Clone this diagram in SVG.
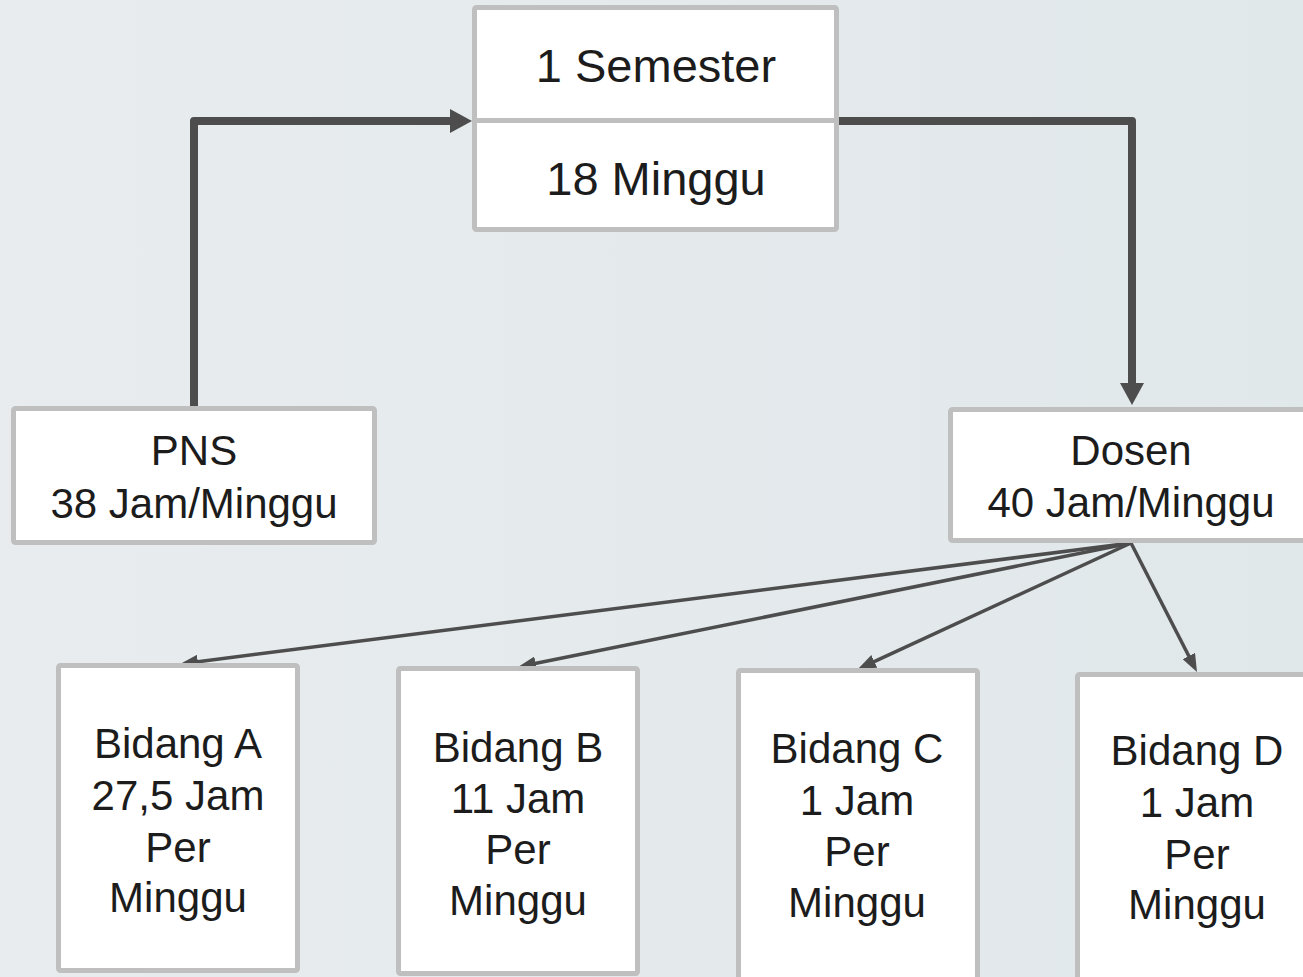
<svg xmlns="http://www.w3.org/2000/svg" width="1303" height="977" viewBox="0 0 1303 977">
<style>
.box{fill:#ffffff;stroke:#bfbfbf;stroke-width:5;}
.t{font-family:"Liberation Sans",Arial,sans-serif;font-size:42px;fill:#1c1c1c;text-anchor:middle;}
.tb{font-size:47px;}
.thick{fill:none;stroke:#4d4d4d;stroke-width:8;stroke-linejoin:round;}
.thin{fill:none;stroke:#4d4d4d;stroke-width:3.5;}
</style>
<defs>
<linearGradient id="bg" x1="0" y1="0" x2="1" y2="0">
<stop offset="0" stop-color="#e8ecef"/>
<stop offset="1" stop-color="#e1e8ea"/>
</linearGradient>
<marker id="big" markerUnits="userSpaceOnUse" markerWidth="24" markerHeight="24" refX="2" refY="12" orient="auto">
<path d="M0,0 L22,12 L0,24 z" fill="#4d4d4d"/>
</marker>
<marker id="small" markerUnits="userSpaceOnUse" markerWidth="18" markerHeight="14" refX="2" refY="7" orient="auto">
<path d="M0,0 L18,7 L0,14 z" fill="#4d4d4d"/>
</marker>
</defs>
<rect width="1303" height="977" fill="url(#bg)"/>
<g id="connectors">
<path class="thick" d="M194,406 V121 H452" marker-end="url(#big)"/>
<path class="thick" d="M836,121 H1132 V385" marker-end="url(#big)"/>
<path class="thin" d="M1131,543 L195.9,662" marker-end="url(#small)"/>
<path class="thin" d="M1131,543 L533.7,663.8" marker-end="url(#small)"/>
<path class="thin" d="M1131,543 L872.5,662.3" marker-end="url(#small)"/>
<path class="thin" d="M1131,543 L1189.7,657.8" marker-end="url(#small)"/>
</g>
<g id="semester">
<rect class="box" x="474.5" y="7.5" width="362" height="222" rx="2"/>
<line x1="474.5" y1="120.5" x2="836.5" y2="120.5" stroke="#bfbfbf" stroke-width="5"/>
<text class="t tb" x="656" y="82">1 Semester</text>
<text class="t tb" x="656" y="195">18 Minggu</text>
</g>
<g id="pns">
<rect class="box" x="13.5" y="408.5" width="361" height="134" rx="2"/>
<text class="t" x="194" y="465">PNS</text>
<text class="t" x="194" y="518">38 Jam/Minggu</text>
</g>
<g id="dosen">
<rect class="box" x="950.5" y="409.5" width="370" height="131" rx="2"/>
<text class="t" x="1131" y="465">Dosen</text>
<text class="t" x="1131" y="517">40 Jam/Minggu</text>
</g>
<g id="bidangA">
<rect class="box" x="58.5" y="665.5" width="239" height="305" rx="2"/>
<text class="t" x="178" y="758">Bidang A</text>
<text class="t" x="178" y="810">27,5 Jam</text>
<text class="t" x="178" y="862">Per</text>
<text class="t" x="178" y="912">Minggu</text>
</g>
<g id="bidangB">
<rect class="box" x="398.5" y="668.5" width="239" height="305" rx="2"/>
<text class="t" x="518" y="762">Bidang B</text>
<text class="t" x="518" y="813">11 Jam</text>
<text class="t" x="518" y="864">Per</text>
<text class="t" x="518" y="915">Minggu</text>
</g>
<g id="bidangC">
<rect class="box" x="738.5" y="670.5" width="239" height="320" rx="2"/>
<text class="t" x="857" y="763">Bidang C</text>
<text class="t" x="857" y="815">1 Jam</text>
<text class="t" x="857" y="866">Per</text>
<text class="t" x="857" y="917">Minggu</text>
</g>
<g id="bidangD">
<rect class="box" x="1077.5" y="674.5" width="240" height="320" rx="2"/>
<text class="t" x="1197" y="765">Bidang D</text>
<text class="t" x="1197" y="817">1 Jam</text>
<text class="t" x="1197" y="869">Per</text>
<text class="t" x="1197" y="919">Minggu</text>
</g>
</svg>
